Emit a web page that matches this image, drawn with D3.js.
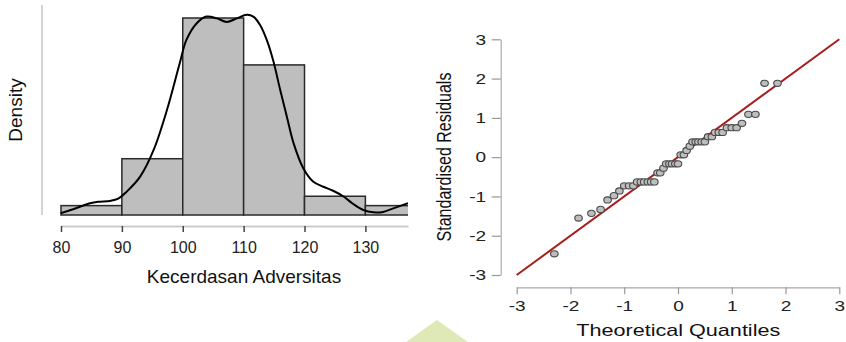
<!DOCTYPE html>
<html>
<head>
<meta charset="utf-8">
<script src="https://cdn.jsdelivr.net/npm/d3@7"></script>
<style>
  body { margin: 0; background: #fff; }
  svg { display: block; font-family: "Liberation Sans", Arial, sans-serif; }
</style>
</head>
<body>
<div id="chart"></div>
<script>
// histogram (left)
const binStarts = [80, 90, 100, 110, 120, 130];
const binCounts = [1, 6, 21, 16, 2, 1];
const binWidth = 10;
const histTicks = [80, 90, 100, 110, 120, 130];

// density curve: x value / density
const densX = [79.95, 82.0, 84.76, 86.1, 88.05, 89.4, 90.8, 93.0, 95.2, 97.4, 99.5, 100.6, 102.3, 103.9,
  105.6, 107.2, 108.9, 110.5, 111.6, 112.7, 113.8, 114.9, 116.0, 117.1, 118.2, 119.8, 121.4, 123.1,
  124.7, 126.4, 128.0, 129.7, 131.3, 132.9, 134.6, 137.0];
const densY = [0.0004, 0.0013, 0.00265, 0.0030, 0.0032, 0.0037, 0.0053, 0.0087, 0.0147, 0.0238, 0.0344,
  0.0397, 0.0435, 0.0450, 0.0446, 0.0438, 0.0446, 0.0454, 0.0450, 0.0431, 0.0397, 0.0348, 0.0284,
  0.0223, 0.0163, 0.0106, 0.0076, 0.0064, 0.0055, 0.0042, 0.0025, 0.0011, 0.0006, 0.0007, 0.0015, 0.0027];

// Q-Q plot (right)
const qqTheo = [-2.30, -1.85, -1.61, -1.44, -1.31, -1.19, -1.09, -1.00, -0.91, -0.83, -0.76, -0.69, -0.63,
  -0.56, -0.50, -0.44, -0.38, -0.33, -0.27, -0.22, -0.16, -0.11, -0.05, 0.00, 0.05, 0.11, 0.16, 0.22,
  0.27, 0.33, 0.38, 0.44, 0.50, 0.56, 0.63, 0.69, 0.76, 0.83, 0.91, 1.00, 1.09, 1.19, 1.31, 1.44, 1.61, 1.85];
const qqResid = [-2.46, -1.55, -1.43, -1.33, -1.09, -0.98, -0.86, -0.73, -0.73, -0.73, -0.63, -0.63, -0.63,
  -0.63, -0.63, -0.63, -0.40, -0.40, -0.28, -0.17, -0.17, -0.17, -0.17, -0.17, 0.06, 0.06, 0.17, 0.28,
  0.39, 0.39, 0.39, 0.39, 0.39, 0.52, 0.52, 0.63, 0.63, 0.63, 0.75, 0.75, 0.75, 0.86, 1.09, 1.09, 1.88, 1.88];
const qqTicks = [-3, -2, -1, 0, 1, 2, 3];
const refLine = [-3, 3];

const W = 846, H = 342;
const S = 1.27; // right panel text is stretched sideways in the reference

const svg = d3.select("#chart").append("svg")
  .attr("width", W).attr("height", H);

// decoration at the bottom
svg.append("polygon")
  .attr("points", "437,320 406,342 468,342")
  .attr("fill", "#dfe9b8");

// ---------- histogram ----------
const total = d3.sum(binCounts);
const xHist = d3.scaleLinear().domain([80, 137]).range([61, 408]);
const yHist = d3.scaleLinear().domain([0, 0.045]).range([215, 16.6]);

svg.append("clipPath").attr("id", "histClip")
  .append("rect").attr("x", 42).attr("y", 0).attr("width", 408 - 42).attr("height", 220);

const hist = svg.append("g").attr("clip-path", "url(#histClip)");

hist.selectAll("rect.bar")
  .data(binStarts)
  .enter().append("rect")
  .attr("class", "bar")
  .attr("x", d => xHist(d))
  .attr("width", d => xHist(d + binWidth) - xHist(d))
  .attr("y", (d, i) => yHist(binCounts[i] / (total * binWidth)))
  .attr("height", (d, i) => yHist(0) - yHist(binCounts[i] / (total * binWidth)))
  .attr("fill", "#bebebe")
  .attr("stroke", "#2a2a2a")
  .attr("stroke-width", 1.5);

const densLine = d3.line()
  .x(i => xHist(densX[i]))
  .y(i => yHist(densY[i]))
  .curve(d3.curveCatmullRom);

hist.append("path")
  .datum(d3.range(densX.length))
  .attr("d", densLine)
  .attr("fill", "none")
  .attr("stroke", "#000")
  .attr("stroke-width", 2);

// y axis line only
svg.append("line")
  .attr("x1", 42).attr("x2", 42).attr("y1", 5).attr("y2", 215)
  .attr("stroke", "#c4c4c4").attr("stroke-width", 1.5);

const histAxis = svg.append("g")
  .attr("transform", "translate(0,226)")
  .call(d3.axisBottom(xHist).tickValues(histTicks).tickSize(6).tickSizeOuter(0).tickPadding(10));
histAxis.select(".domain").attr("stroke", "#cccccc").attr("stroke-width", 2);
histAxis.selectAll(".tick line").attr("stroke", "#444").attr("stroke-width", 1.5);
histAxis.selectAll("text").attr("font-size", 16).attr("fill", "#222")
  .attr("font-family", "Liberation Sans, Arial, sans-serif");

svg.append("text")
  .attr("x", 244).attr("y", 283)
  .attr("text-anchor", "middle")
  .attr("font-size", 19).attr("fill", "#111")
  .text("Kecerdasan Adversitas");

svg.append("text")
  .attr("transform", "translate(22,110) rotate(-90)")
  .attr("text-anchor", "middle")
  .attr("font-size", 19).attr("fill", "#111")
  .text("Density");

// ---------- Q-Q plot ----------
const xQ = d3.scaleLinear().domain([-3, 3]).range([516.7, 839.3]);
const yQ = d3.scaleLinear().domain([-3, 3]).range([275, 39.3]);

const qxAxis = svg.append("g")
  .attr("transform", "translate(0,287.3)")
  .call(d3.axisBottom(xQ).tickValues(qqTicks).tickFormat(d => String(d))
    .tickSize(7).tickSizeOuter(0).tickPadding(6));
const qyAxis = svg.append("g")
  .attr("transform", "translate(500.7,0)")
  .call(d3.axisLeft(yQ).tickValues(qqTicks).tickFormat(d => String(d))
    .tickSize(9).tickSizeOuter(0));

[qxAxis, qyAxis].forEach(ax => {
  ax.select(".domain").attr("stroke", "#aaaaaa").attr("stroke-width", 1.2);
  ax.selectAll(".tick line").attr("stroke", "#999").attr("stroke-width", 1.2);
  ax.selectAll("text").attr("font-size", 15).attr("fill", "#222")
    .attr("font-family", "Liberation Sans, Arial, sans-serif");
});
qxAxis.selectAll("text").attr("transform", `scale(${S},1)`);
qyAxis.selectAll("text").attr("x", -14.5 / S).attr("transform", `scale(${S},1)`);

svg.append("path")
  .datum(refLine)
  .attr("d", d3.line().x(d => xQ(d)).y(d => yQ(d)))
  .attr("stroke", "#a81c1c")
  .attr("stroke-width", 2)
  .attr("fill", "none");

svg.selectAll("ellipse.pt")
  .data(qqTheo)
  .enter().append("ellipse")
  .attr("class", "pt")
  .attr("cx", d => xQ(d))
  .attr("cy", (d, i) => yQ(qqResid[i]))
  .attr("rx", 3.8).attr("ry", 3.1)
  .attr("fill", "#bdbdbd")
  .attr("stroke", "#4a4a4a")
  .attr("stroke-width", 1.1);

svg.append("text")
  .attr("transform", `translate(678.3,336) scale(${S},1)`)
  .attr("text-anchor", "middle")
  .attr("font-size", 17).attr("fill", "#111")
  .text("Theoretical Quantiles");

svg.append("text")
  .attr("transform", `translate(451,157) scale(${S},1) rotate(-90)`)
  .attr("text-anchor", "middle")
  .attr("font-size", 16).attr("fill", "#111")
  .text("Standardised Residuals");
</script>
</body>
</html>
